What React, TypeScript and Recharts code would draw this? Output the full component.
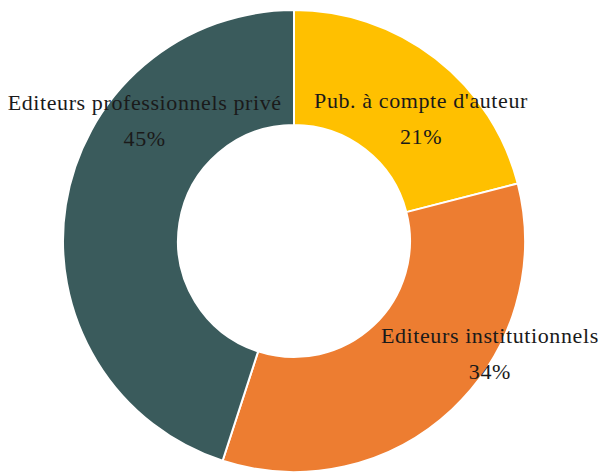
import { PieChart, Pie, Cell } from 'recharts';

const categories = ["Pub. à compte d'auteur", 'Editeurs institutionnels', 'Editeurs professionnels privé'];
const shares = [21, 34, 45];
const colors = ['#FFC000', '#ED7D31', '#3A5B5C'];

// label placement (angle in degrees, distance from centre in px), one per slice
const labelAngles = [42.4, -31.2, 142.6];
const labelDistances = [172, 229, 188];

const data = categories.map((name, i) => ({ name, value: shares[i] }));

const RADIAN = Math.PI / 180;

function renderLabel(props: any) {
    const { cx, cy, index, name, value } = props;
    const a = labelAngles[index] * RADIAN;
    const x = cx + labelDistances[index] * Math.cos(a);
    const y = cy - labelDistances[index] * Math.sin(a);
    return (
        <text
            x={x}
            y={y}
            textAnchor="middle"
            fill="#1a1a1a"
            fontFamily="'Liberation Serif', serif"
            fontSize={22}
            letterSpacing={0.6}
        >
            <tspan x={x} y={y - 17}>{name}</tspan>
            <tspan x={x} y={y + 19}>{value}%</tspan>
        </text>
    );
}

export default function App() {
    return (
        <div style={{ position: 'absolute', left: 0, top: 0, background: '#fff' }}>
            <PieChart width={602} height={474} margin={{ top: 0, right: 0, bottom: 0, left: 0 }}>
                <Pie
                    data={data}
                    dataKey="value"
                    nameKey="name"
                    cx={294}
                    cy={241}
                    innerRadius={116}
                    outerRadius={231}
                    startAngle={90}
                    endAngle={-270}
                    stroke="#fff"
                    strokeWidth={2}
                    label={renderLabel}
                    labelLine={false}
                    isAnimationActive={false}
                >
                    {data.map((d, i) => (
                        <Cell key={d.name} fill={colors[i]} />
                    ))}
                </Pie>
            </PieChart>
        </div>
    );
}
